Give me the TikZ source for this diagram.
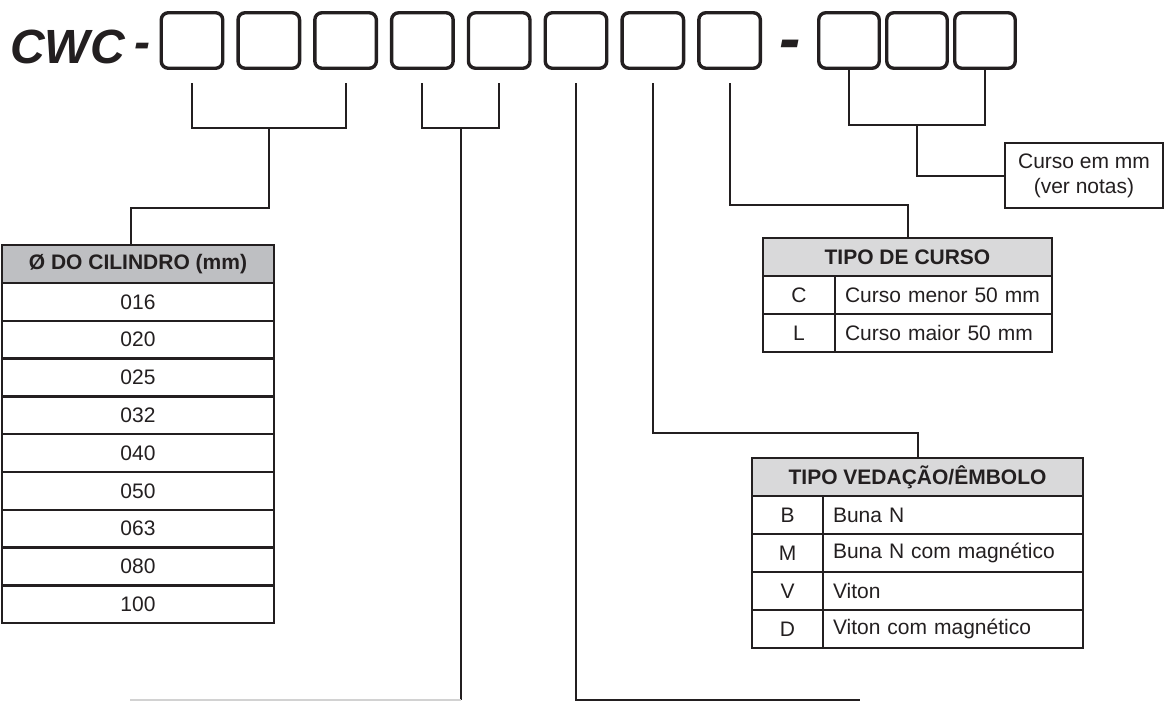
\documentclass[tikz,border=0pt]{standalone}
\usepackage{fontspec}
\setmainfont{Liberation Sans}
\usetikzlibrary{calc}
\definecolor{ink}{HTML}{231F20}
\definecolor{hdrA}{HTML}{BEBFC2}
\definecolor{hdrB}{HTML}{D9D9DA}
\definecolor{faint}{HTML}{D2D2D2}
\begin{document}
\begin{tikzpicture}[x=1pt,y=-1pt,
  slot/.style={draw=ink, line width=3.4pt, rounded corners=7pt, minimum width=61.5pt, minimum height=55.5pt, inner sep=0pt, outer sep=0pt},
  slotn/.style={slot, minimum width=60.5pt},
  cell/.style={draw=ink, line width=2.4pt, inner sep=0pt, outer sep=0pt, minimum height=37.8pt, text=ink, font=\fontsize{21}{25}\selectfont},
  hdr/.style={cell, minimum height=38pt, font=\bfseries\fontsize{21}{25}\selectfont},
  lcell/.style={cell, align=left, inner xsep=10pt},
  conn/.style={draw=ink, line width=2pt},
  thinconn/.style={draw=ink, line width=1.6pt},
  faintline/.style={draw=faint, line width=1.5pt},
  title/.style={text=ink, inner sep=0pt, font=\bfseries\itshape\fontsize{48}{50}\selectfont}
]
\useasboundingbox (0,0) rectangle (1165,702);

% title
\node[title, anchor=base west] (cwc) at (10,63) {CWC};
\node[title, anchor=base] (dashA) at (142,58) {-};
\node[title, anchor=base, font=\bfseries\itshape\fontsize{64}{66}\selectfont] (dashB) at (790,60.5) {-};

% slots
\foreach \i in {1,...,8} {
  \node[slot] (b\i) at ({192+76.8*(\i-1)},40.5) {};
}
\node[slotn] (b9) at (849,40.5) {};
\node[slotn] (b10) at (917,40.5) {};
\node[slotn] (b11) at (985,40.5) {};

% table: diameter
\node[hdr, fill=hdrA, minimum width=272pt] (t1h) at (138,264) {Ø DO CILINDRO (mm)};
\foreach \v [count=\i] in {016,020,025,032,040,050,063,080,100} {
  \node[cell, minimum width=272pt] (d\i) at (138,{283+37.8*(\i-0.5)}) {\v};
}

% table: tipo de curso
\node[hdr, fill=hdrB, minimum width=289pt] (tc) at (907.5,257) {TIPO DE CURSO};
\node[cell, minimum width=72pt] (tcC) at (799,295) {C};
\node[lcell, text width=197pt] (tcCt) at (943.5,295) {Curso menor 50 mm};
\node[cell, minimum width=72pt] (tcL) at (799,333) {L};
\node[lcell, text width=197pt] (tcLt) at (943.5,333) {Curso maior 50 mm};

% table: tipo vedacao
\node[hdr, fill=hdrB, minimum width=331pt] (tv) at (917.5,477) {TIPO VEDAÇÃO/ÊMBOLO};
\foreach \k/\t [count=\i] in {B/Buna N, M/Buna N com magnético, V/Viton, D/Viton com magnético} {
  \node[cell, minimum width=71pt, minimum height=38pt] (tv\i) at (787.5,{496+38*(\i-0.5)}) {\k};
  \node[lcell, minimum height=38pt, text width=240pt] (tv\i t) at (953,{496+38*(\i-0.5)}) {\t};
}

% curso box
\node[draw=ink, line width=2.4pt, minimum width=158pt, minimum height=65pt, align=center, text=ink, inner sep=0pt,
      font=\fontsize{21}{25}\selectfont] (cb) at (1084,175.5) {Curso em mm\\(ver notas)};

% helper coordinates
\coordinate (ya) at (0,83);
\coordinate (yb) at (0,128);
\coordinate (yc) at (0,125);
\coordinate (yd) at (0,208);
\coordinate (ye) at (0,205);
\coordinate (yf) at (0,433);
\coordinate (yg) at (0,700);
\coordinate (endR) at (860,700);
\coordinate (endL) at (130,700);
\coordinate (t1top) at ([xshift=-7pt]t1h.north);
\coordinate (m45) at ($(b4)!0.5!(b5)$);

% connectors
\draw[conn] (b1 |- ya) |- (b3 |- yb) -- (b3 |- ya);
\draw[conn] (b2 |- yb) |- (t1top |- yd) -- (t1top);
\draw[conn] (b4 |- ya) |- (b5 |- yb) -- (b5 |- ya);
\draw[thinconn] (m45 |- yb) -- (m45 |- yg);
\draw[faintline] (m45 |- yg) -- (endL);
\draw[conn] (b6 |- ya) |- (endR);
\draw[conn] (b7 |- ya) |- (tv.north |- yf) -- (tv.north);
\draw[conn] (b8 |- ya) |- (tc.north |- ye) -- (tc.north);
\draw[conn] (b9.south) |- (b11 |- yc) -- (b11.south);
\draw[conn] (b10 |- yc) |- (cb.west);
\end{tikzpicture}
\end{document}
